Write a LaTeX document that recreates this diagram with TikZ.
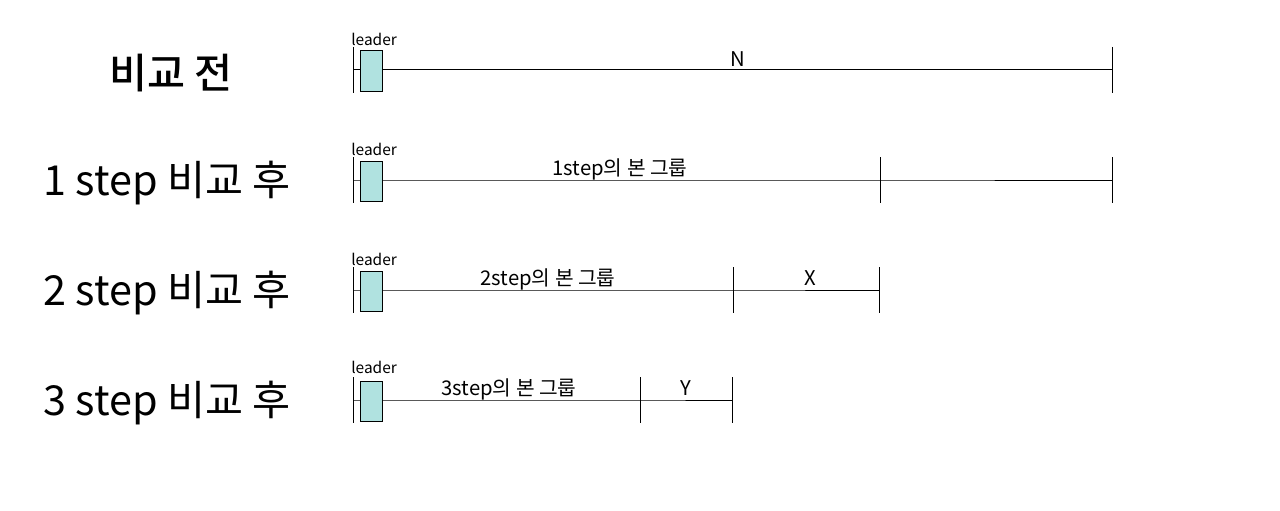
\documentclass[tikz,border=0pt]{standalone}
\usepackage{fontspec}
\setmainfont{Noto Sans CJK KR}
\newfontfamily\krmed{Noto Sans CJK KR Medium}
\definecolor{leadfill}{RGB}{176,226,224}
\begin{document}
\begin{tikzpicture}[x=0.75pt,y=-0.75pt,
  leadbox/.style={draw=black,fill=leadfill,line width=0.75pt,minimum width=16.5pt,minimum height=30pt,inner sep=0pt},
  seg/.style={draw=black,line width=0.75pt},
  ticky/.style={draw=black,line width=0.75pt},
  small/.style={font=\fontsize{11.6pt}{13pt}\selectfont,inner sep=0pt},
  grp/.style={font=\fontsize{15.2pt}{18pt}\selectfont,inner sep=0pt,anchor=base},
  rowlab/.style={font=\fontsize{31pt}{36pt}\selectfont,inner sep=0pt}]
\useasboundingbox (0,0) rectangle (1280,510);
\fill[white] (0,0) rectangle (1280,510);

% Left labels
\node[rowlab,font=\fontsize{31pt}{36pt}\krmed] (l0) at (171,73) {비교 전};
\node[rowlab] (l1) at (167,183) {1 step 비교 후};
\node[rowlab] (l2) at (167,293) {2 step 비교 후};
\node[rowlab] (l3) at (167,403) {3 step 비교 후};

% Row 1
\coordinate (a1) at (353,70);
\coordinate (b1) at (1112,70);
\draw[seg] (a1) -- (b1);
\draw[ticky] (a1) ++(0,-23) -- ++(0,46);
\draw[ticky] (b1) ++(0,-23) -- ++(0,46);
\node[leadbox] (box1) at (371,71) {};
\node[small,anchor=base west] (ld1) at (351,45.5) {leader};
\node[grp] (n1) at (738,66.5) {N};

% Row 2
\coordinate (a2) at (353,180);
\coordinate (m2) at (880,180);
\coordinate (b2) at (1112,180);
\draw[seg] (a2) -- (m2) -- (b2);
\draw[ticky] (a2) ++(0,-23) -- ++(0,46);
\draw[ticky] (m2) ++(0,-23) -- ++(0,46);
\draw[ticky] (b2) ++(0,-23) -- ++(0,46);
\node[leadbox] (box2) at (371,181) {};
\node[small,anchor=base west] (ld2) at (351,155.5) {leader};
\node[grp] (g2) at (620,175.5) {1step의 본 그룹};

% Row 3
\coordinate (a3) at (353,290);
\coordinate (m3) at (733,290);
\coordinate (b3) at (879,290);
\draw[seg] (a3) -- (m3) -- (b3);
\draw[ticky] (a3) ++(0,-23) -- ++(0,46);
\draw[ticky] (m3) ++(0,-23) -- ++(0,46);
\draw[ticky] (b3) ++(0,-23) -- ++(0,46);
\node[leadbox] (box3) at (371,291) {};
\node[small,anchor=base west] (ld3) at (351,265.5) {leader};
\node[grp] (g3) at (548,285.5) {2step의 본 그룹};
\node[grp] (x3) at (810,285.5) {X};

% Row 4
\coordinate (a4) at (353,400);
\coordinate (m4) at (640,400);
\coordinate (b4) at (732,400);
\draw[seg] (a4) -- (m4) -- (b4);
\draw[ticky] (a4) ++(0,-23) -- ++(0,46);
\draw[ticky] (m4) ++(0,-23) -- ++(0,46);
\draw[ticky] (b4) ++(0,-23) -- ++(0,46);
\node[leadbox] (box4) at (371,401) {};
\node[small,anchor=base west] (ld4) at (351,373.5) {leader};
\node[grp] (g4) at (509,395.5) {3step의 본 그룹};
\node[grp] (y4) at (686,395.5) {Y};
\end{tikzpicture}
\end{document}
